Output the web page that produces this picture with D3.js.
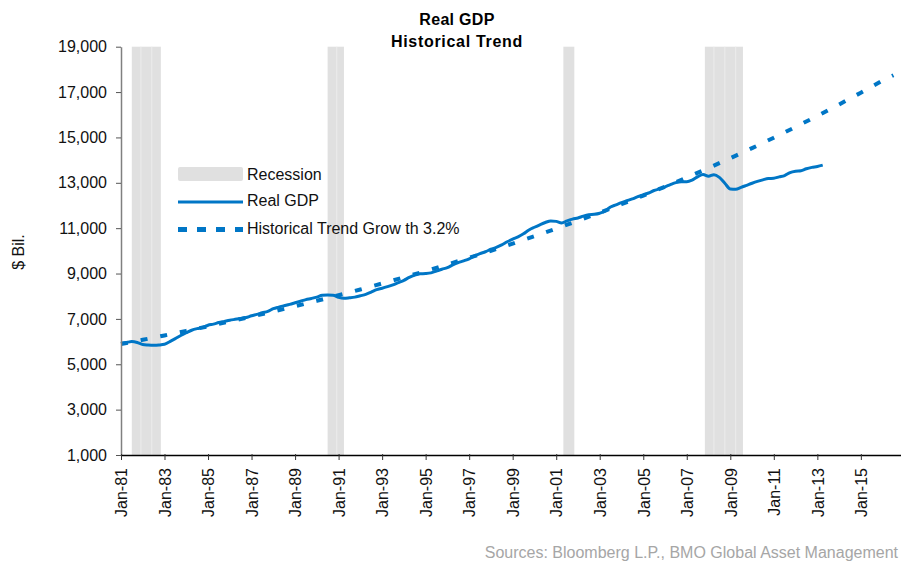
<!DOCTYPE html>
<html>
<head>
<meta charset="utf-8">
<script src="https://cdn.jsdelivr.net/npm/d3@7"></script>
<style>
  html, body { margin: 0; padding: 0; background: #fff; }
  svg { display: block; font-family: "Liberation Sans", Arial, Helvetica, sans-serif; }
</style>
</head>
<body>
<svg id="chart" width="901" height="562"></svg>
<script>
// ---------------- DATA ----------------
const titleLines = ["Real GDP", "Historical Trend"];
const yAxisTitle = "$ Bil.";
const sourceText = "Sources: Bloomberg L.P., BMO Global Asset Management";
const legendLabels = ["Recession", "Real GDP", "Historical Trend Grow th 3.2%"];

// Real GDP, quarterly, $ Bil. (1981 Q1 .. 2013 Q2)
const gdpStart = "1981-01-01";
const gdpValues = [
  5925, 5960, 6000, 5960,   // 1981
  5870, 5850, 5840, 5850,   // 1982
  5880, 6000, 6130, 6270,   // 1983
  6390, 6500, 6570, 6620,   // 1984
  6720, 6770, 6840, 6890,   // 1985
  6940, 6980, 7020, 7060,   // 1986
  7140, 7200, 7270, 7330,   // 1987
  7450, 7520, 7580, 7640,   // 1988
  7710, 7780, 7850, 7900,   // 1989
  7960, 8040, 8050, 8040,   // 1990
  7950, 7910, 7930, 7960,   // 1991
  8020, 8080, 8180, 8290,   // 1992
  8350, 8420, 8500, 8600,   // 1993
  8700, 8830, 8930, 8990,   // 1994
  9000, 9030, 9110, 9190,   // 1995
  9260, 9380, 9480, 9560,   // 1996
  9650, 9780, 9880, 9960,   // 1997
  10070, 10150, 10260, 10400, // 1998
  10520, 10620, 10750, 10920, // 1999
  11040, 11150, 11250, 11320, // 2000
  11300, 11230, 11320, 11400, // 2001
  11450, 11530, 11590, 11610, // 2002
  11660, 11750, 11930, 12030, // 2003
  12130, 12210, 12290, 12390, // 2004
  12470, 12550, 12660, 12730, // 2005
  12820, 12920, 13010, 13050, // 2006
  13050, 13120, 13260, 13370, // 2007
  13290, 13360, 13240, 12980, // 2008
  12730, 12720, 12800, 12890, // 2009
  12980, 13060, 13130, 13190, // 2010
  13200, 13260, 13320, 13450, // 2011
  13510, 13530, 13620, 13680, // 2012
  13720, 13780                // 2013
];

// Historical trend (3.2% growth), values at January of each year, plus end point
const trendDates = ["1981-01-01","1982-01-01","1983-01-01","1984-01-01","1985-01-01","1986-01-01",
  "1987-01-01","1988-01-01","1989-01-01","1990-01-01","1991-01-01","1992-01-01","1993-01-01",
  "1994-01-01","1995-01-01","1996-01-01","1997-01-01","1998-01-01","1999-01-01","2000-01-01",
  "2001-01-01","2002-01-01","2003-01-01","2004-01-01","2005-01-01","2006-01-01","2007-01-01",
  "2008-01-01","2009-01-01","2010-01-01","2011-01-01","2012-01-01","2013-01-01","2014-01-01",
  "2015-01-01","2016-01-01","2016-07-01"];
const trendValues = [5893, 6079, 6271, 6470, 6674, 6885, 7103, 7327, 7559, 7798, 8044, 8298,
  8561, 8831, 9110, 9398, 9695, 10002, 10318, 10644, 10980, 11327, 11685, 12055, 12436, 12829,
  13234, 13652, 14084, 14529, 14988, 15462, 15950, 16454, 16974, 17511, 17740];

// Recession periods
const recessionStarts = ["1981-07-01", "1990-07-01", "2001-05-01", "2007-11-01"];
const recessionEnds   = ["1982-11-01", "1991-04-01", "2001-11-01", "2009-08-01"];

// Axis ticks
const yTicks = [1000, 3000, 5000, 7000, 9000, 11000, 13000, 15000, 17000, 19000];
const xTickDates = ["1981-01-01","1983-01-01","1985-01-01","1987-01-01","1989-01-01","1991-01-01",
  "1993-01-01","1995-01-01","1997-01-01","1999-01-01","2001-01-01","2003-01-01","2005-01-01",
  "2007-01-01","2009-01-01","2011-01-01","2013-01-01","2015-01-01"];
const xDomain = ["1981-01-01", "2017-01-01"];
const yDomain = [1000, 19000];

// ---------------- DRAW ----------------
const parse = d3.timeParse("%Y-%m-%d");
const svg = d3.select("#chart");
const blue = "#0076c6";

const m = { left: 121, right: 904.4, top: 46.7, bottom: 455 };
const x = d3.scaleTime().domain(xDomain.map(parse)).range([m.left, m.right]);
const y = d3.scaleLinear().domain(yDomain).range([m.bottom, m.top]);

const gdp0 = parse(gdpStart);
const gdpData = gdpValues.map((v, i) => ({ date: d3.timeMonth.offset(gdp0, 3 * i), value: v }));
const trendData = trendValues.map((v, i) => ({ date: parse(trendDates[i]), value: v }));

// Recession bars
const rec = svg.append("g");
recessionStarts.forEach((s, i) => {
  const d0 = parse(s), d1 = parse(recessionEnds[i]);
  const x0 = x(d0), x1 = x(d1);
  rec.append("rect")
    .attr("x", x0).attr("y", y(yDomain[1]))
    .attr("width", x1 - x0).attr("height", y(yDomain[0]) - y(yDomain[1]))
    .attr("fill", "#e0e0e0");
  // faint column separators, about every six months
  for (let k = 5; ; k += 6) {
    const d = d3.timeMonth.offset(d0, k);
    if (x1 - x(d) < 6) break;
    rec.append("line").attr("x1", x(d)).attr("x2", x(d))
      .attr("y1", y(yDomain[1])).attr("y2", y(yDomain[0]))
      .attr("stroke", "#ececec").attr("stroke-width", 1);
  }
});

const line = d3.line().x(d => x(d.date)).y(d => y(d.value));

// Trend (dashed)
svg.append("path").datum(trendData)
  .attr("d", line)
  .attr("fill", "none").attr("stroke", blue)
  .attr("stroke-width", 4).attr("stroke-dasharray", "7,13");

// Real GDP
svg.append("path").datum(gdpData)
  .attr("d", line.curve(d3.curveMonotoneX))
  .attr("fill", "none").attr("stroke", blue)
  .attr("stroke-width", 3).attr("stroke-linejoin", "round");

// Y axis
const yAxis = svg.append("g").attr("transform", `translate(${m.left},0)`)
  .call(d3.axisLeft(y).tickValues(yTicks).tickFormat(d3.format(",")).tickSize(5).tickSizeOuter(0).tickPadding(9));
yAxis.select(".domain").attr("stroke", "#808080").attr("stroke-width", 1.5);
yAxis.selectAll(".tick line").attr("stroke", "#555");
yAxis.selectAll(".tick text").attr("font-size", 16).attr("fill", "#111")
  .attr("font-family", '"Liberation Sans", Arial, sans-serif');

// X axis
const xAxis = svg.append("g").attr("transform", `translate(0,${m.bottom})`)
  .call(d3.axisBottom(x).tickValues(xTickDates.map(parse)).tickFormat(d3.timeFormat("Jan-%y")).tickSize(5).tickSizeOuter(0));
xAxis.select(".domain").attr("stroke", "#000").attr("stroke-width", 1.3);
xAxis.selectAll(".tick line").attr("stroke", "#333").attr("y1", -1);
xAxis.selectAll(".tick text")
  .attr("font-size", 16).attr("fill", "#111")
  .attr("font-family", '"Liberation Sans", Arial, sans-serif')
  .attr("text-anchor", "end")
  .attr("transform", "rotate(-90)")
  .attr("x", -13).attr("y", 0).attr("dy", "0.36em");

// Title
svg.append("text").attr("x", 457).attr("y", 25).attr("text-anchor", "middle")
  .attr("font-size", 16).attr("font-weight", "bold").attr("letter-spacing", 0.3).text(titleLines[0]);
svg.append("text").attr("x", 457).attr("y", 47).attr("text-anchor", "middle")
  .attr("font-size", 16).attr("font-weight", "bold").attr("letter-spacing", 0.7).text(titleLines[1]);

// Y axis title
svg.append("text").attr("transform", "translate(24,252) rotate(-90)")
  .attr("text-anchor", "middle").attr("font-size", 16).attr("fill", "#111").text(yAxisTitle);

// Legend
const lg = svg.append("g");
lg.append("rect").attr("x", 178).attr("y", 167).attr("width", 65).attr("height", 14)
  .attr("rx", 2).attr("fill", "#e0e0e0");
lg.append("line").attr("x1", 178).attr("x2", 243).attr("y1", 202).attr("y2", 202)
  .attr("stroke", blue).attr("stroke-width", 3);
lg.append("line").attr("x1", 178).attr("x2", 243).attr("y1", 229.5).attr("y2", 229.5)
  .attr("stroke", blue).attr("stroke-width", 5).attr("stroke-dasharray", "9,10");
[180, 206, 234].forEach((yy, i) => {
  lg.append("text").attr("x", 247).attr("y", yy).attr("font-size", 16).attr("fill", "#111")
    .text(legendLabels[i]);
});

// Source
svg.append("text").attr("x", 898).attr("y", 558).attr("text-anchor", "end")
  .attr("font-size", 16).attr("fill", "#a6a6a6").text(sourceText);
</script>
</body>
</html>
